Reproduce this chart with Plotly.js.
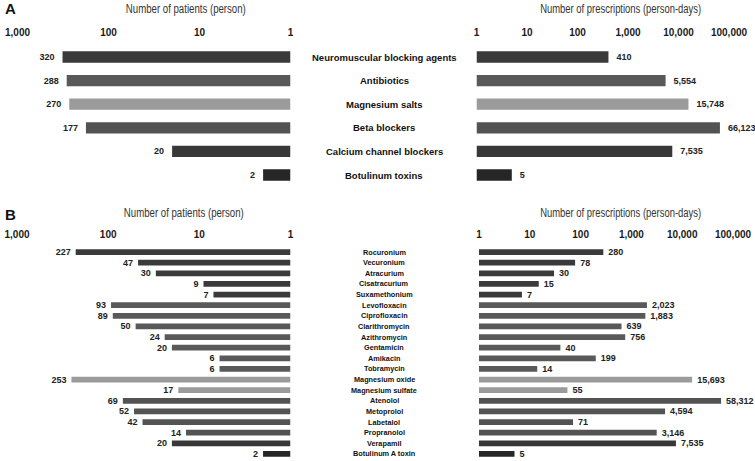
<!DOCTYPE html>
<html>
<head>
<meta charset="utf-8">
<script src="https://cdn.plot.ly/plotly-3.0.1.min.js"></script>
<style>html,body{margin:0;padding:0;background:#fff;}#chart{width:755px;height:461px;}</style>
</head>
<body>
<div id="chart"></div>
<script>
// ---- data ----
const categoriesA = ['Neuromuscular blocking agents','Antibiotics','Magnesium salts','Beta blockers','Calcium channel blockers','Botulinum toxins'];
const groupsA = ['NMB','ABX','MG','BB','CCB','BOT'];
const patientsA = [320, 288, 270, 177, 20, 2];
const prescriptionsA = [410, 5554, 15748, 66123, 7535, 5];

const categoriesB = ['Rocuronium','Vecuronium','Atracurium','Cisatracurium','Suxamethonium',
  'Levofloxacin','Ciprofloxacin','Clarithromycin','Azithromycin','Gentamicin','Amikacin','Tobramycin',
  'Magnesium oxide','Magnesium sulfate',
  'Atenolol','Metoprolol','Labetalol','Propranolol',
  'Verapamil','Botulinum A toxin'];
const groupsB = ['NMB','NMB','NMB','NMB','NMB',
  'ABX','ABX','ABX','ABX','ABX','ABX','ABX',
  'MG','MG',
  'BB','BB','BB','BB',
  'CCB','BOT'];
const patientsB = [227, 47, 30, 9, 7, 93, 89, 50, 24, 20, 6, 6, 253, 17, 69, 52, 42, 14, 20, 2];
const prescriptionsB = [280, 78, 30, 15, 7, 2023, 1883, 639, 756, 40, 199, 14, 15693, 55, 58312, 4594, 71, 3146, 7535, 5];

const patientTickVals = [1, 10, 100, 1000];
const patientTickText = ['1', '10', '100', '1,000'];
const prescTickVals = [1, 10, 100, 1000, 10000, 100000];
const prescTickText = ['1', '10', '100', '1,000', '10,000', '100,000'];

// ---- styles ----
const groupColors = {NMB:'#3a3a3a', ABX:'#595959', MG:'#9b9b9b', BB:'#535353', CCB:'#383838', BOT:'#262626'};
const W = 755, H = 461;
const px = v => v / W;
const py = v => 1 - v / H;
const fmt = v => v.toLocaleString('en-US');
const NB = '\u00a0';
const BOLD = 'Liberation Sans, Arial, Helvetica, sans-serif';
const LIGHT = 'Liberation Sans, Arial, Helvetica, sans-serif';

function barTrace(vals, groups, cats, xa, ya, width, leftSide) {
  return {
    type: 'bar', orientation: 'h',
    y: cats, x: vals.map(v => v - 1), base: 1,
    xaxis: xa, yaxis: ya, width: width,
    marker: {color: groups.map(g => groupColors[g]), line: {width: 0}},
    text: vals.map(v => leftSide ? fmt(v) + NB + NB : NB + NB + fmt(v)),
    textposition: 'outside', constraintext: 'none', cliponaxis: false,
    textfont: {family: BOLD, size: 9, color: '#222', weight: 700},
    hoverinfo: 'skip', showlegend: false
  };
}

const data = [
  barTrace(patientsA, groupsA, categoriesA, 'x', 'y', 0.48, true),
  barTrace(prescriptionsA, groupsA, categoriesA, 'x2', 'y', 0.48, false),
  barTrace(patientsB, groupsB, categoriesB, 'x3', 'y2', 0.54, true),
  barTrace(prescriptionsB, groupsB, categoriesB, 'x4', 'y2', 0.54, false)
];

function xAxis(domain, range, anchor, vals, text) {
  return {
    type: 'log', domain: domain, range: range, anchor: anchor, side: 'top',
    tickvals: vals, ticktext: text, ticks: '', ticklabelstandoff: 6,
    tickfont: {family: BOLD, size: 10, color: '#1a1a1a', weight: 700},
    showgrid: false, zeroline: false, showline: false, fixedrange: true
  };
}
function yAxis(domain, cats, anchor) {
  return {
    type: 'category', domain: domain, range: [cats.length - 0.5, -0.5], anchor: anchor,
    categoryorder: 'array', categoryarray: cats,
    showticklabels: false, ticks: '', showgrid: false, zeroline: false, showline: false, fixedrange: true
  };
}

const annotations = [];
categoriesA.forEach(c => annotations.push({
  xref: 'paper', yref: 'y', x: px(384), y: c, text: c, showarrow: false,
  xanchor: 'center', yanchor: 'middle',
  font: {family: BOLD, size: 9.5, color: '#111', weight: 700}
}));
categoriesB.forEach(c => annotations.push({
  xref: 'paper', yref: 'y2', x: px(384), y: c, text: c, showarrow: false,
  xanchor: 'center', yanchor: 'middle',
  font: {family: BOLD, size: 7.3, color: '#111', weight: 700}
}));
const titles = [
  {t: 'Number of patients (person)', x: 186, y: 8.5, w: 120},
  {t: 'Number of prescriptions (person-days)', x: 620, y: 8.5, w: 161},
  {t: 'Number of patients (person)', x: 184, y: 213, w: 122},
  {t: 'Number of prescriptions (person-days)', x: 620, y: 213, w: 163}
];
titles.forEach(o => annotations.push({
  xref: 'paper', yref: 'paper', x: px(o.x), y: py(o.y), text: o.t, showarrow: false,
  xanchor: 'center', yanchor: 'middle',
  font: {family: LIGHT, size: 12.5, color: '#333', weight: 400}
}));
[['A', 9], ['B', 214]].forEach(([t, y]) => annotations.push({
  xref: 'paper', yref: 'paper', x: px(3), y: py(y), text: t, showarrow: false,
  xanchor: 'left', yanchor: 'middle',
  font: {family: BOLD, size: 15, color: '#111', weight: 700}
}));

const layout = {
  width: W, height: H,
  margin: {l: 0, r: 0, t: 0, b: 0},
  paper_bgcolor: '#fff', plot_bgcolor: 'rgba(0,0,0,0)',
  showlegend: false,
  xaxis: xAxis([px(17.5), px(290.5)], [3, 0], 'y', patientTickVals, patientTickText),
  xaxis2: xAxis([px(476.5), px(729)], [0, 5], 'y', prescTickVals, prescTickText),
  xaxis3: xAxis([px(17), px(290.5)], [3, 0], 'y2', patientTickVals, patientTickText),
  xaxis4: xAxis([px(479), px(733)], [0, 5], 'y2', prescTickVals, prescTickText),
  yaxis: yAxis([py(186.8), py(45.2)], categoriesA, 'x'),
  yaxis2: yAxis([py(459.3), py(246.7)], categoriesB, 'x3'),
  annotations: annotations
};

Plotly.newPlot('chart', data, layout, {staticPlot: true, displayModeBar: false}).then(() => {
  // condense the axis titles horizontally to the narrow face of the original
  document.querySelectorAll('#chart text.annotation-text').forEach(el => {
    const o = titles.find(t => t.t === el.textContent);
    if (o) {
      el.setAttribute('textLength', o.w);
      el.setAttribute('lengthAdjust', 'spacingAndGlyphs');
    }
  });
});
</script>
</body>
</html>
